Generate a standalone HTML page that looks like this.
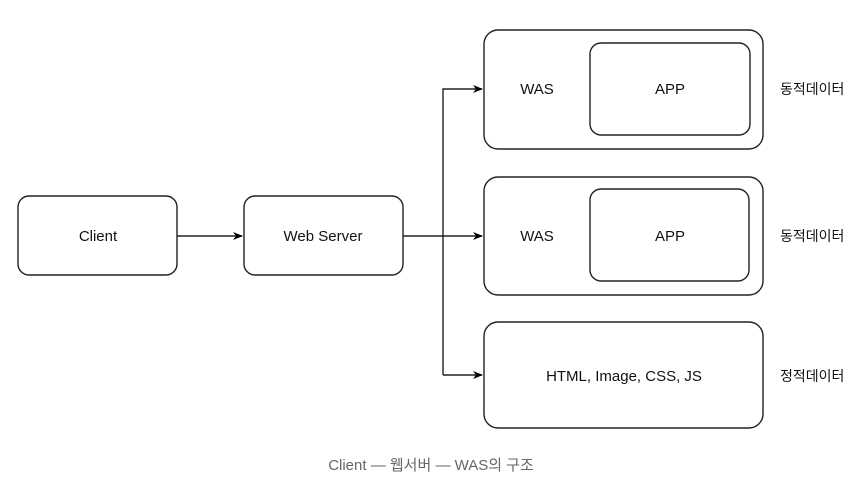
<!DOCTYPE html>
<html><head><style>body{margin:0;background:#fff}</style></head><body>
<svg width="862" height="487" xmlns="http://www.w3.org/2000/svg" style="display:block;font-family:'Liberation Sans','Noto Sans CJK KR',sans-serif">
<defs><marker id="a" markerWidth="10" markerHeight="8" refX="9" refY="4" orient="auto" markerUnits="userSpaceOnUse"><path d="M0,0 L10,4 L0,8 L3,4 z" fill="#000"/></marker></defs>
<g fill="none" stroke="#222" stroke-width="1.4">
<rect x="18" y="196" width="159" height="79" rx="11"/>
<rect x="244" y="196" width="159" height="79" rx="11"/>
<rect x="484" y="30" width="279" height="119" rx="14"/>
<rect x="590" y="43" width="160" height="92" rx="11"/>
<rect x="484" y="177" width="279" height="118" rx="14"/>
<rect x="590" y="189" width="159" height="92" rx="11"/>
<rect x="484" y="322" width="279" height="106" rx="14"/>
<path d="M177 236 H242" marker-end="url(#a)"/>
<path d="M403 236 H482" marker-end="url(#a)"/>
<path d="M443 375 V89 H482" marker-end="url(#a)"/>
<path d="M443 375 H482" marker-end="url(#a)"/>
</g>
<g font-size="15" fill="#111" text-anchor="middle">
<text x="98" y="241">Client</text>
<text x="323" y="241">Web Server</text>
<text x="537" y="94">WAS</text>
<text x="670" y="94">APP</text>
<text x="537" y="241">WAS</text>
<text x="670" y="241">APP</text>
<text x="624" y="381">HTML, Image, CSS, JS</text>
</g>
<g font-size="14" fill="#111">
<text x="780" y="94">동적데이터</text>
<text x="780" y="241">동적데이터</text>
<text x="780" y="381">정적데이터</text>
</g>
<text x="431" y="470" font-size="15" fill="#666" text-anchor="middle">Client — 웹서버 — WAS의 구조</text>
</svg>
</body></html>
